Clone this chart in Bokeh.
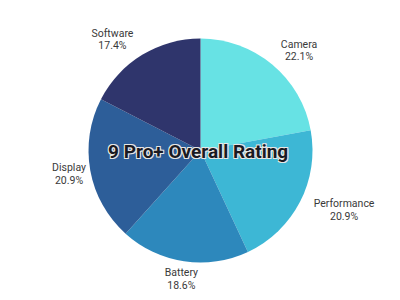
import math
from bokeh.plotting import figure
from bokeh.models import ColumnDataSource, Range1d
from bokeh.core.properties import value
from bokeh.embed import file_html
from bokeh.resources import INLINE

categories = ["Camera", "Performance", "Battery", "Display", "Software"]
percents = [22.1, 20.9, 18.6, 20.9, 17.4]
percent_labels = ["22.1%", "20.9%", "18.6%", "20.9%", "17.4%"]
colors = ["#67E2E4", "#3DB7D5", "#2D88BC", "#2D5E99", "#2F356C"]
title_text = "9 Pro+ Overall  Rating"

# layout / style
R = 112
LABEL_R = 130
label_shift = [1, 1, 0, -0.2, -1]  # -1 right-anchored, 0 centred, 1 left-anchored
CHAR_W = 5.1

total = sum(percents)
starts, ends, mids = [], [], []
acc = 0.0
for v in percents:
    a0 = math.pi / 2 - 2 * math.pi * acc / total
    acc += v
    a1 = math.pi / 2 - 2 * math.pi * acc / total
    starts.append(a0)
    ends.append(a1)
    mids.append((a0 + a1) / 2)

src = ColumnDataSource(dict(start=starts, end=ends, color=colors, cat=categories))

lx, ly, ltxt = [], [], []
for cat, pl, m, s in zip(categories, percent_labels, mids, label_shift):
    x = LABEL_R * math.cos(m) + s * CHAR_W * len(cat) / 2
    y = LABEL_R * math.sin(m)
    lx.append(x)
    ly.append(y)
    ltxt.append(cat + "\n" + pl)
lsrc = ColumnDataSource(dict(x=lx, y=ly, text=ltxt))

p = figure(width=400, height=300, output_backend="svg", toolbar_location=None,
           x_range=Range1d(-200, 200), y_range=Range1d(-150, 150),
           min_border=0, outline_line_color=None)
p.axis.visible = False
p.grid.visible = False
p.background_fill_color = "white"
p.border_fill_color = "white"

p.wedge(x=0, y=0, radius=R, start_angle="start", end_angle="end",
        direction="clock", color="color", line_color=None, source=src)

p.text(x="x", y="y", text="text", source=lsrc, text_align="center",
       text_baseline="middle", text_font=value("Roboto"),
       text_font_size="10.5px", text_color="#3A3A3A", text_line_height=0.95)

# title with a light outline
tsrc = ColumnDataSource(dict(x=[0], y=[-1], text=[title_text]))
for dx, dy in [(-1, -1), (1, -1), (-1, 1), (1, 1)]:
    p.text(x="x", y="y", text="text", source=tsrc, x_offset=dx, y_offset=dy,
           text_align="center", text_baseline="middle",
           text_font=value("Roboto"), text_font_style="bold",
           text_font_size="19px", text_color="#E6E6E6")
p.text(x="x", y="y", text="text", source=tsrc, text_align="center",
       text_baseline="middle", text_font=value("Roboto"),
       text_font_style="bold", text_font_size="19px", text_color="#1A1A22")

open("out.html", "w").write(file_html(p, INLINE))
